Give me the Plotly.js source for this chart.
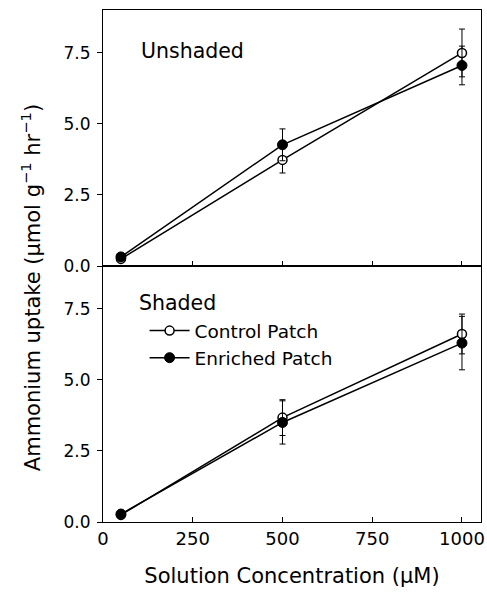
<!DOCTYPE html>
<html>
<head>
<meta charset="utf-8">
<script src="https://cdn.plot.ly/plotly-3.0.1.min.js"></script>
<style>html,body{margin:0;padding:0;background:#fff;}#chart{width:487px;height:593px;}</style>
</head>
<body>
<div id="chart"></div>
<script>
// Solution concentration (uM)
const concentration = [50, 500, 1000];

// Unshaded panel
const unshadedControl = [0.25, 3.73, 7.49];
const unshadedControlErr = [0.05, 0.46, 0.84];
const unshadedEnriched = [0.32, 4.26, 7.05];
const unshadedEnrichedErr = [0.05, 0.56, 0.68];

// Shaded panel
const shadedControl = [0.25, 3.67, 6.61];
const shadedControlErr = [0.05, 0.63, 0.70];
const shadedEnriched = [0.28, 3.50, 6.29];
const shadedEnrichedErr = [0.05, 0.76, 0.94];

const seriesNames = ["Control Patch", "Enriched Patch"];
const panelLabels = ["Unshaded", "Shaded"];
const xTicks = [0, 250, 500, 750, 1000];
const yTicks = [0, 2.5, 5, 7.5];

const FONT = "DejaVu Sans, sans-serif";
const lineStyle = {color: "black", width: 1.5};

function ctrl(y, err, xa, ya, show) {
  return {
    x: concentration, y: y, xaxis: xa, yaxis: ya,
    type: "scatter", mode: "lines+markers", name: seriesNames[0],
    showlegend: show,
    line: lineStyle,
    marker: {symbol: "circle", size: 9, color: "white", line: {color: "black", width: 1.5}},
    error_y: {type: "data", array: err, visible: true, color: "black", thickness: 1, width: 3}
  };
}
function enr(y, err, xa, ya, show) {
  return {
    x: concentration, y: y, xaxis: xa, yaxis: ya,
    type: "scatter", mode: "lines+markers", name: seriesNames[1],
    showlegend: show,
    line: lineStyle,
    marker: {symbol: "circle", size: 10, color: "black", line: {color: "black", width: 1}},
    error_y: {type: "data", array: err, visible: true, color: "black", thickness: 1, width: 3}
  };
}

const data = [
  ctrl(unshadedControl, unshadedControlErr, "x2", "y2", false),
  enr(unshadedEnriched, unshadedEnrichedErr, "x2", "y2", false),
  ctrl(shadedControl, shadedControlErr, "x", "y", true),
  enr(shadedEnriched, shadedEnrichedErr, "x", "y", true)
];

const yCommon = {
  range: [0, 9], tickvals: yTicks, tickformat: ".1f",
  ticks: "outside", ticklen: 5, tickcolor: "black", tickwidth: 1,
  ticklabelstandoff: 3,
  showline: true, linecolor: "black", linewidth: 1, mirror: true,
  showgrid: false, zeroline: false,
  tickfont: {family: FONT, size: 17, color: "black"}
};
const yRight = {
  range: [0, 9], tickvals: yTicks, ticks: "inside", ticklen: 5,
  tickcolor: "black", tickwidth: 1, showticklabels: false,
  showline: false, showgrid: false, zeroline: false, side: "right"
};
const xCommon = {
  range: [0, 1053], tickvals: xTicks,
  ticks: "inside", ticklen: 5, tickcolor: "black", tickwidth: 1,
  showline: true, linecolor: "black", linewidth: 1, mirror: true,
  showgrid: false, zeroline: false,
  tickfont: {family: FONT, size: 18, color: "black"}
};

const layout = {
  width: 487, height: 593,
  margin: {l: 103, r: 6, t: 10, b: 71},
  paper_bgcolor: "white", plot_bgcolor: "white",
  font: {family: FONT, size: 18, color: "black"},
  showlegend: true,
  legend: {
    x: 0.11, y: 0.41, xanchor: "left", yanchor: "top",
    bgcolor: "rgba(0,0,0,0)", borderwidth: 0,
    font: {family: FONT, size: 18.5, color: "black"},
    tracegroupgap: 0, itemwidth: 40
  },
  xaxis: Object.assign({}, xCommon, {anchor: "y",
    title: {text: "Solution Concentration (\u03BCM)", font: {family: FONT, size: 21, color: "black"}, standoff: 20}}),
  xaxis2: Object.assign({}, xCommon, {anchor: "y2", matches: "x", showticklabels: false}),
  yaxis: Object.assign({}, yCommon, {domain: [0, 0.5], anchor: "x"}),
  yaxis2: Object.assign({}, yCommon, {domain: [0.5, 1], anchor: "x2"}),
  yaxis3: Object.assign({}, yRight, {overlaying: "y", anchor: "x"}),
  yaxis4: Object.assign({}, yRight, {overlaying: "y2", anchor: "x2"}),
  annotations: [
    {text: panelLabels[0], xref: "paper", yref: "paper", x: 0.095, y: 0.92,
     xanchor: "left", yanchor: "middle", showarrow: false, font: {family: FONT, size: 20.5}},
    {text: panelLabels[1], xref: "paper", yref: "paper", x: 0.09, y: 0.428,
     xanchor: "left", yanchor: "middle", showarrow: false, font: {family: FONT, size: 20.5}},
    {text: "Ammonium uptake (\u03BCmol g<sup>\u22121</sup> hr<sup>\u22121</sup>)",
     xref: "paper", yref: "paper", x: -0.19, y: 0.457, textangle: -90,
     xanchor: "center", yanchor: "middle", showarrow: false, font: {family: FONT, size: 21}}
  ]
};

Plotly.newPlot("chart", data, layout, {displayModeBar: false, staticPlot: true});
</script>
</body>
</html>
